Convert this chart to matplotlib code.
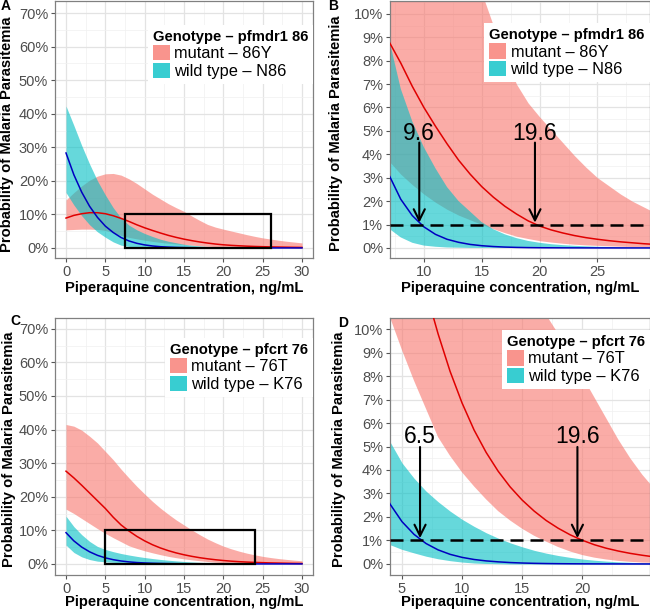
import matplotlib
matplotlib.use("Agg")
import matplotlib.pyplot as plt
from matplotlib.patches import Patch, Rectangle
from matplotlib.ticker import FuncFormatter, FixedLocator
import numpy as np

plt.rcParams['font.family'] = ['Liberation Sans', 'DejaVu Sans']

# ---------------- data (probability of parasitemia, %) ----------------
conc = list(range(0, 31))

mdr1_mut_fit = [8.9, 9.7, 10.2, 10.5, 10.5, 10.2, 9.6, 8.8, 7.9, 6.9, 6.0, 5.2, 4.45, 3.75, 3.15, 2.62,
                2.17, 1.78, 1.45, 1.16, 0.935, 0.77, 0.64, 0.53, 0.44, 0.37, 0.31, 0.26, 0.22, 0.18, 0.15]
mdr1_mut_lo = [5.4, 5.5, 5.6, 5.6, 5.5, 5.2, 4.6, 3.7, 3.15, 2.7, 2.3, 1.95, 1.65, 1.4, 1.2, 1.0,
               0.82, 0.65, 0.5, 0.4, 0.31, 0.25, 0.2, 0.16, 0.13, 0.11, 0.09, 0.075, 0.06, 0.05, 0.04]
mdr1_mut_hi = [14.3, 16.5, 18.5, 20.2, 21.4, 22.1, 22.2, 21.7, 20.6, 19.2, 17.6, 16.0, 14.6, 13.2, 12.0, 10.9,
               9.5, 8.2, 7.0, 6.2, 5.6, 5.05, 4.5, 3.95, 3.45, 3.0, 2.65, 2.3, 2.0, 1.75, 1.5]
mdr1_wt_fit = [28.3, 21.8, 16.6, 12.4, 9.1, 6.5, 4.6, 3.1, 2.08, 1.38, 0.9, 0.58, 0.37, 0.24, 0.15, 0.095,
               0.06, 0.037, 0.023, 0.014, 0.009, 0.006, 0.004, 0.003, 0.002, 0.001, 0.001, 0.0, 0.0, 0.0, 0.0]
mdr1_wt_lo = [16.5, 12.8, 9.6, 6.9, 4.8, 3.2, 1.8, 0.82, 0.45, 0.22, 0.1, 0.05, 0.02, 0.01, 0.0, 0.0,
              0.0, 0.0, 0.0, 0.0, 0.0, 0.0, 0.0, 0.0, 0.0, 0.0, 0.0, 0.0, 0.0, 0.0, 0.0]
mdr1_wt_hi = [42.3, 36.5, 30.5, 25.0, 20.0, 15.8, 12.0, 8.9, 6.8, 5.4, 4.3, 3.4, 2.6, 2.0, 1.55, 1.1,
              0.8, 0.58, 0.42, 0.3, 0.22, 0.16, 0.12, 0.09, 0.07, 0.05, 0.04, 0.03, 0.02, 0.015, 0.01]

crt_mut_fit = [27.6, 25.6, 23.4, 21.1, 18.8, 16.5, 13.9, 11.6, 9.8, 8.2, 6.85, 5.7, 4.75, 3.95, 3.28, 2.72,
               2.25, 1.85, 1.52, 1.24, 1.01, 0.82, 0.67, 0.55, 0.45, 0.37, 0.3, 0.25, 0.2, 0.16, 0.13]
crt_mut_lo = [16.3, 15.0, 13.5, 12.0, 10.5, 9.1, 7.8, 6.6, 5.4, 4.6, 3.9, 3.3, 2.75, 2.25, 1.85, 1.5,
              1.2, 0.95, 0.72, 0.53, 0.38, 0.27, 0.19, 0.13, 0.09, 0.06, 0.05, 0.04, 0.03, 0.02, 0.015]
# upper band
crt_mut_hi = [41.5, 41.0, 39.8, 38.0, 36.0, 33.5, 31.0, 28.2, 25.6, 23.1, 20.8, 18.6, 16.6, 14.8, 13.1, 11.6,
              10.1, 8.7, 7.4, 6.3, 5.3, 4.5, 3.8, 3.2, 2.7, 2.25, 1.9, 1.6, 1.35, 1.12, 0.93]
# upper band
crt_mut_hi_zoom = [41.5, 41.0, 39.8, 38.0, 36.0, 33.5, 31.0, 28.0, 25.5, 23.0, 20.6, 18.4, 16.4, 14.6, 13.0, 12.0,
                   11.3, 10.6, 9.8, 8.9, 8.0, 7.1, 6.2, 5.3, 4.5, 3.8, 3.2, 2.6, 2.1, 1.7, 1.35]
crt_wt_fit = [9.3, 6.85, 5.0, 3.6, 2.55, 1.8, 1.26, 0.87, 0.6, 0.41, 0.28, 0.19, 0.13, 0.09, 0.06, 0.04,
              0.027, 0.018, 0.012, 0.008, 0.005, 0.003, 0.002, 0.001, 0.0, 0.0, 0.0, 0.0, 0.0, 0.0, 0.0]
crt_wt_lo = [5.6, 3.4, 2.1, 1.3, 0.82, 0.62, 0.47, 0.33, 0.22, 0.14, 0.08, 0.04, 0.02, 0.01, 0.0, 0.0,
             0.0, 0.0, 0.0, 0.0, 0.0, 0.0, 0.0, 0.0, 0.0, 0.0, 0.0, 0.0, 0.0, 0.0, 0.0]
crt_wt_hi = [14.2, 11.1, 8.7, 6.7, 5.2, 4.3, 3.65, 3.1, 2.65, 2.25, 1.9, 1.6, 1.33, 1.1, 0.9, 0.73,
             0.58, 0.46, 0.36, 0.28, 0.21, 0.16, 0.12, 0.09, 0.07, 0.05, 0.04, 0.03, 0.02, 0.015, 0.01]

mdr1_labels = ["mutant – 86Y", "wild type – N86"]
crt_labels = ["mutant – 76T", "wild type – K76"]
mdr1_title = "Genotype – pfmdr1 86"
crt_title = "Genotype – pfcrt 76"

rect_A = [7.5, 26, 0, 10]     # x0, x1, y0, y1
rect_C = [5, 24, 0, 10]
thresholds_B = [9.6, 19.6]
thresholds_D = [6.5, 19.6]
labels_B = ["9.6", "19.6"]
labels_D = ["6.5", "19.6"]
threshold_level = 1.0

# ---------------- style ----------------
PINK = '#F8766D'
TEAL = '#00BFC4'
RED = '#E00000'
BLUE = '#0000C0'
W, H = 650, 613

fig = plt.figure(figsize=(6.5, 6.13), dpi=100)


def ax_at(l, t, r, b):
    return fig.add_axes([l / W, 1 - b / H, (r - l) / W, (b - t) / H])


def style(ax, xlim, ylim, xmaj, xmin, ymaj, ymin, xlabel_y, ylabel_xy):
    ax.set_xlim(*xlim)
    ax.set_ylim(*ylim)
    ax.xaxis.set_major_locator(FixedLocator(xmaj))
    ax.xaxis.set_minor_locator(FixedLocator(xmin))
    ax.yaxis.set_major_locator(FixedLocator(ymaj))
    ax.yaxis.set_minor_locator(FixedLocator(ymin))
    ax.yaxis.set_major_formatter(FuncFormatter(lambda v, p: f"{v:.0f}%"))
    ax.grid(which='major', color='#E3E3E3', lw=0.9, zorder=0)
    ax.grid(which='minor', color='#F0F0F0', lw=0.5, zorder=0)
    ax.set_axisbelow(True)
    ax.tick_params(which='major', length=3, width=0.8, color='#555555',
                   labelsize=10.5, labelcolor='#4D4D4D', pad=2)
    ax.tick_params(which='minor', length=0)
    for s in ax.spines.values():
        s.set_color('#808080')
        s.set_linewidth(0.9)
    ax.set_xlabel("Piperaquine concentration, ng/mL", fontsize=10.6, fontweight='bold')
    ax.set_ylabel("Probability of Malaria Parasitemia", fontsize=10.6, fontweight='bold')
    ax.xaxis.set_label_coords(0.5, xlabel_y)
    ax.yaxis.set_label_coords(*ylabel_xy)


def draw(ax, mut_lo, mut_hi, mut_fit, wt_lo, wt_hi, wt_fit):
    ax.fill_between(conc, mut_lo, mut_hi, color=PINK, alpha=0.6, lw=0, zorder=2)
    ax.fill_between(conc, wt_lo, wt_hi, color=TEAL, alpha=0.6, lw=0, zorder=2)
    ax.plot(conc, mut_fit, color=RED, lw=1.1, zorder=3)
    ax.plot(conc, wt_fit, color=BLUE, lw=1.1, zorder=3)


def legend(ax, title, labels, anchor_y):
    handles = [Patch(facecolor=PINK, alpha=0.78, edgecolor='none'),
               Patch(facecolor=TEAL, alpha=0.78, edgecolor='none')]
    leg = ax.legend(handles, labels, title=title, loc='upper right',
                    bbox_to_anchor=(1.0, anchor_y), fontsize=11.8,
                    title_fontproperties={'weight': 'bold', 'size': 10.6},
                    frameon=True, fancybox=False, framealpha=1, edgecolor='white',
                    facecolor='white', borderpad=0.3, handlelength=1.05, handleheight=1.05,
                    handletextpad=0.25, labelspacing=0.08, borderaxespad=0)
    leg._legend_box.align = "left"
    leg.get_frame().set_linewidth(0)
    leg.set_zorder(5)


def thresholds(ax, xs, labs, text_y, top, tip):
    ax.axhline(threshold_level, color='black', lw=1.8, dashes=(5.2, 2.8), zorder=4)
    for x, lab in zip(xs, labs):
        ax.annotate('', xy=(x, tip), xytext=(x, top),
                    arrowprops=dict(arrowstyle='->', lw=1.5, color='black',
                                    mutation_scale=20, shrinkA=0, shrinkB=0), zorder=6)
        ax.text(x, text_y, lab, fontsize=16.5, ha='center', va='baseline', zorder=6)


# Panel A
axA = ax_at(55, 1, 313, 258)
draw(axA, mdr1_mut_lo, mdr1_mut_hi, mdr1_mut_fit, mdr1_wt_lo, mdr1_wt_hi, mdr1_wt_fit)
axA.add_patch(Rectangle((rect_A[0], rect_A[2]), rect_A[1] - rect_A[0], rect_A[3] - rect_A[2],
                        fill=False, ec='black', lw=1.6, zorder=4))
style(axA, (-1.4, 31.4), (-3.0, 73.6), range(0, 31, 5), np.arange(2.5, 31, 5),
      range(0, 71, 10), range(5, 71, 10), -0.089, (-0.158, 0.48))
legend(axA, mdr1_title, mdr1_labels, 0.907)

# Panel B
axB = ax_at(390, 1, 649.5, 258)
draw(axB, mdr1_mut_lo, mdr1_mut_hi, mdr1_mut_fit, mdr1_wt_lo, mdr1_wt_hi, mdr1_wt_fit)
style(axB, (7.07, 29.5), (-0.43, 10.55), [10, 15, 20, 25], [7.5, 12.5, 17.5, 22.5, 27.5],
      range(0, 11), np.arange(0.5, 10.6, 1), -0.089, (-0.181, 0.485))
legend(axB, mdr1_title, mdr1_labels, 0.914)
thresholds(axB, thresholds_B, labels_B, 4.62, 4.5, 1.08)

# Panel C
axC = ax_at(55, 318, 313, 575)
draw(axC, crt_mut_lo, crt_mut_hi, crt_mut_fit, crt_wt_lo, crt_wt_hi, crt_wt_fit)
axC.add_patch(Rectangle((rect_C[0], rect_C[2]), rect_C[1] - rect_C[0], rect_C[3] - rect_C[2],
                        fill=False, ec='black', lw=1.6, zorder=4))
style(axC, (-1.4, 31.4), (-3.3, 73.2), range(0, 31, 5), np.arange(2.5, 31, 5),
      range(0, 71, 10), range(5, 71, 10), -0.078, (-0.151, 0.488))
legend(axC, crt_title, crt_labels, 0.922)

# Panel D
axD = ax_at(390, 318, 649.5, 575)
draw(axD, crt_mut_lo, crt_mut_hi_zoom, crt_mut_fit, crt_wt_lo, crt_wt_hi, crt_wt_fit)
style(axD, (4.0, 25.6), (-0.47, 10.47), [5, 10, 15, 20], [7.5, 12.5, 17.5, 22.5],
      range(0, 11), np.arange(0.5, 10.6, 1), -0.078, (-0.169, 0.488))
legend(axD, crt_title, crt_labels, 0.953)
thresholds(axD, thresholds_D, labels_D, 5.15, 4.98, 1.1)

# panel letters
for lab, x, y in [("A", 1, 10), ("B", 328, 10), ("C", 10, 325), ("D", 338, 327)]:
    fig.text(x / W, 1 - y / H, lab, fontsize=10, fontweight='bold', ha='left', va='baseline')

fig.savefig("out.png", dpi=100)
